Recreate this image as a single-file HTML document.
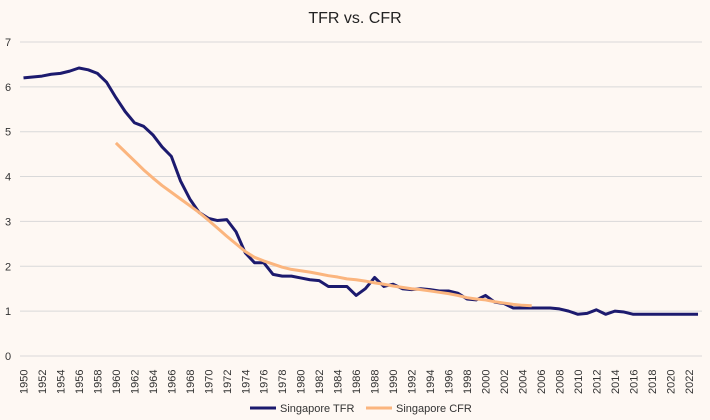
<!DOCTYPE html>
<html><head><meta charset="utf-8"><style>
body{margin:0;background:#fef8f3;}
svg{display:block;font-family:"Liberation Sans",sans-serif;}
</style></head><body>
<svg id="c" width="710" height="420">
<rect width="710" height="420" fill="#fef8f3"/>
<text x="355" y="23" text-anchor="middle" font-size="16" fill="#222">TFR vs. CFR</text>
<g id="grid"></g><g id="xt"></g><g id="series"></g>
<g>
<g><line x1="250" y1="408" x2="276" y2="408" stroke="#1c1a6e" stroke-width="3"/><text x="280" y="412" font-size="11" fill="#333">Singapore TFR</text></g>
<g><line x1="366" y1="408" x2="392" y2="408" stroke="#fbb57e" stroke-width="3"/><text x="396" y="412" font-size="11" fill="#333">Singapore CFR</text></g>
</g>
</svg>
<script>
const years=[];for(let y=1950;y<=2023;y++)years.push(y);
const tfr=[6.2,6.22,6.24,6.28,6.3,6.35,6.42,6.38,6.3,6.1,5.76,5.45,5.2,5.12,4.93,4.66,4.45,3.9,3.5,3.2,3.07,3.02,3.04,2.77,2.3,2.08,2.08,1.82,1.78,1.78,1.74,1.7,1.68,1.55,1.55,1.55,1.35,1.5,1.75,1.55,1.6,1.5,1.48,1.5,1.48,1.45,1.45,1.4,1.27,1.25,1.35,1.2,1.17,1.07,1.07,1.07,1.07,1.07,1.05,1.0,0.93,0.95,1.03,0.93,1.0,0.98,0.93,0.93,0.93,0.93,0.93,0.93,0.93,0.93];
const cfrStart=1960;
const cfr=[4.75,4.55,4.35,4.15,3.97,3.8,3.65,3.5,3.35,3.2,3.03,2.85,2.67,2.5,2.33,2.2,2.12,2.05,1.98,1.93,1.9,1.87,1.83,1.79,1.76,1.72,1.7,1.67,1.63,1.6,1.56,1.53,1.5,1.48,1.45,1.42,1.39,1.35,1.3,1.27,1.25,1.21,1.18,1.15,1.13,1.12];
const yTicks=[0,1,2,3,4,5,6,7];
const NS="http://www.w3.org/2000/svg";
const X=y=>23.5+(y-1950)*9.24, Y=v=>356-v*44.86;
function mk(t,a,p){const e=document.createElementNS(NS,t);for(const k in a)e.setAttribute(k,a[k]);p.appendChild(e);return e;}
const g=document.getElementById('grid');
yTicks.forEach(v=>{
const l=mk('line',{x1:20,x2:702,y1:Y(v),y2:Y(v),stroke:'#d9d9d9','stroke-width':1},g);


const t=mk('text',{x:8,y:Y(v)+4,'font-size':11,fill:'#333','text-anchor':'middle'},g);t.textContent=v;


});
const xt=document.getElementById('xt');
years.filter(y=>y%2==0).forEach(y=>{
const t=mk('text',{transform:`translate(${X(y)+4},394) rotate(-90)`,'font-size':11,fill:'#333'},xt);t.textContent=y;


});
const s=document.getElementById('series');
const p1=mk('polyline',{points:tfr.map((v,i)=>X(years[i])+','+Y(v)).join(' '),fill:'none',stroke:'#1c1a6e','stroke-width':3,'stroke-linejoin':'round'},s);


const p2=mk('polyline',{points:cfr.map((v,i)=>X(cfrStart+i)+','+Y(v)).join(' '),fill:'none',stroke:'#fbb57e','stroke-width':3,'stroke-linejoin':'round'},s);


</script>
</body></html>
